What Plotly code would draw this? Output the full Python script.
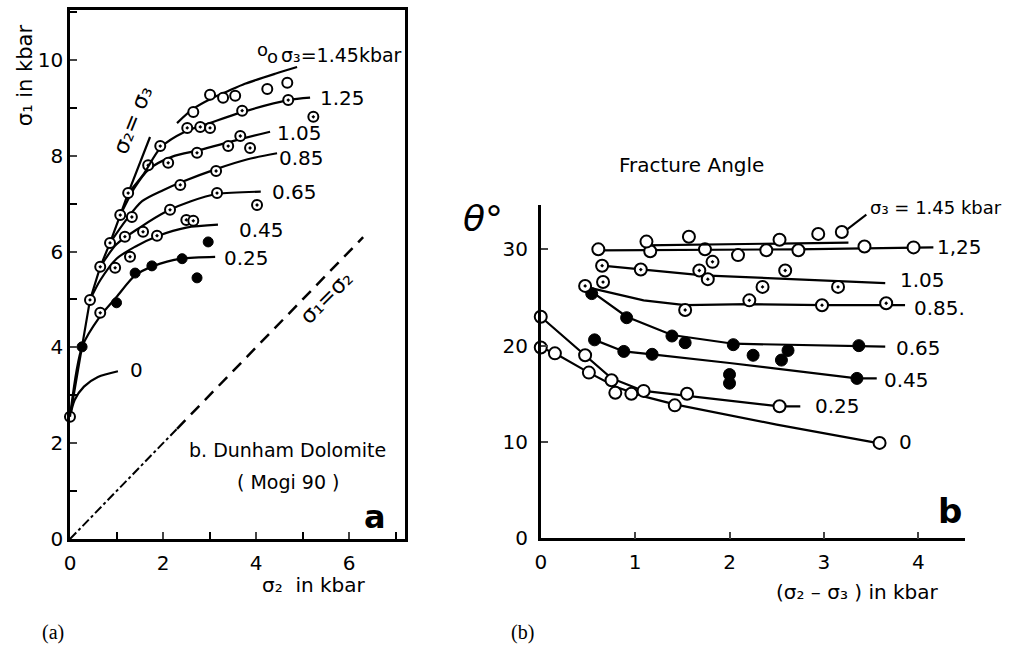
import plotly.graph_objects as go

FONT = "DejaVu Sans"

# ---- panel a : sigma1 against sigma2 (kbar), Dunham dolomite ----
A_S2S3_X = [0.0, 0.43, 0.65, 0.86, 1.08, 1.25, 1.72]
A_S2S3_Y = [2.55, 4.99, 5.68, 6.18, 6.76, 7.22, 8.39]

A0_X = [0.0, 0.1, 0.3, 0.6, 1.03]
A0_Y = [2.55, 2.9, 3.18, 3.38, 3.5]
A0_PX = [0.0]
A0_PY = [2.55]

A025_X = [0.0, 0.26, 0.65, 1.0, 1.4, 1.8, 2.4, 3.12]
A025_Y = [2.55, 4.01, 4.65, 5.05, 5.5, 5.7, 5.85, 5.89]
A025_PX = [0.26, 1.0, 1.40, 1.76, 2.41, 2.97, 2.73]
A025_PY = [4.01, 4.93, 5.55, 5.70, 5.85, 6.20, 5.45]

A045_X = [0.43, 0.65, 1.0, 1.4, 1.9, 2.5, 3.18]
A045_Y = [4.99, 5.4, 5.85, 6.1, 6.33, 6.5, 6.56]
A045_PX = [0.43, 0.65, 0.97, 1.29, 1.87, 2.5, 2.65]
A045_PY = [4.99, 4.72, 5.66, 5.89, 6.33, 6.66, 6.64]

A065_X = [0.65, 1.0, 1.5, 2.1, 2.6, 3.16, 4.1]
A065_Y = [5.68, 6.15, 6.5, 6.85, 7.05, 7.2, 7.25]
A065_PX = [0.65, 1.18, 1.57, 2.15, 3.16, 4.02]
A065_PY = [5.68, 6.31, 6.41, 6.87, 7.22, 6.97]

A085_X = [0.86, 1.2, 1.55, 2.0, 2.4, 3.14, 3.8, 4.45]
A085_Y = [6.18, 6.65, 7.05, 7.28, 7.45, 7.72, 7.92, 8.05]
A085_PX = [0.86, 1.33, 2.37, 3.14]
A085_PY = [6.18, 6.72, 7.39, 7.68]

A105_X = [1.08, 1.4, 1.7, 2.2, 2.8, 3.6, 4.3]
A105_Y = [6.76, 7.35, 7.72, 7.98, 8.12, 8.33, 8.5]
A105_PX = [1.08, 1.68, 2.11, 2.73, 3.40, 3.66, 3.87]
A105_PY = [6.76, 7.80, 7.85, 8.06, 8.20, 8.41, 8.16]

A125_X = [1.25, 1.57, 1.96, 2.47, 3.0, 3.7, 4.69, 5.16]
A125_Y = [7.22, 7.6, 8.18, 8.5, 8.68, 8.91, 9.16, 9.21]
A125_PX = [1.25, 1.94, 2.52, 2.80, 3.01, 3.70, 4.69, 5.23]
A125_PY = [7.22, 8.20, 8.58, 8.60, 8.58, 8.94, 9.16, 8.81]

A145_X = [2.30, 2.65, 3.03, 3.4, 3.76, 4.41, 4.88]
A145_Y = [8.68, 8.98, 9.19, 9.35, 9.50, 9.71, 9.85]
A145_PX = [2.65, 3.01, 3.29, 3.55, 4.24, 4.67]
A145_PY = [8.91, 9.27, 9.21, 9.25, 9.39, 9.52]

# sigma1 = sigma2 reference line
EQ_DASHDOT = [0.0, 2.3]
EQ_DASH = [2.3, 6.3]

# ---- panel b : fracture angle against (sigma2 - sigma3) ----
B0_X = [0.0, 0.15, 0.51, 0.8, 1.1, 1.42, 2.5, 3.59]
B0_Y = [19.8, 19.2, 17.2, 15.7, 14.7, 13.9, 11.8, 9.86]
B0_PX = [0.0, 0.15, 0.51, 0.79, 0.96, 1.42, 3.59]
B0_PY = [19.8, 19.2, 17.2, 15.1, 15.0, 13.8, 9.9]

B025_X = [0.0, 0.47, 0.75, 1.09, 1.55, 2.53, 2.75]
B025_Y = [23.0, 19.0, 16.6, 15.3, 14.8, 13.7, 13.7]
B025_PX = [0.0, 0.47, 0.75, 1.09, 1.55, 2.53]
B025_PY = [23.0, 19.0, 16.4, 15.3, 15.0, 13.7]

B045_X = [0.57, 0.88, 1.18, 2.0, 3.35, 3.56]
B045_Y = [20.6, 19.4, 19.1, 18.2, 16.6, 16.6]
B045_PX = [0.57, 0.88, 1.18, 2.0, 2.0, 3.35]
B045_PY = [20.6, 19.4, 19.1, 17.0, 16.1, 16.6]

B065_X = [0.47, 0.54, 0.91, 1.39, 2.04, 3.37, 3.65]
B065_Y = [26.2, 25.6, 23.0, 21.1, 20.2, 20.0, 19.9]
B065_PX = [0.54, 0.91, 1.39, 1.53, 2.04, 2.25, 2.55, 2.62, 3.37]
B065_PY = [25.4, 22.9, 21.0, 20.3, 20.1, 19.0, 18.5, 19.5, 20.0]

B085_X = [0.52, 1.09, 1.53, 2.2, 3.0, 3.86]
B085_Y = [26.0, 24.7, 24.2, 24.3, 24.2, 24.2]
B085_PX = [0.47, 0.66, 1.53, 2.21, 2.98, 3.66]
B085_PY = [26.2, 26.6, 23.7, 24.7, 24.2, 24.4]

B105_X = [0.65, 1.06, 1.72, 3.65]
B105_Y = [28.3, 27.9, 27.3, 26.5]
B105_PX = [0.65, 1.06, 1.68, 1.77, 1.82, 2.35, 2.59, 3.15]
B105_PY = [28.3, 27.9, 27.8, 26.9, 28.7, 26.1, 27.8, 26.1]

B125_X = [0.61, 2.7, 4.16]
B125_Y = [29.9, 30.0, 30.2]
B125_PX = [0.61, 1.16, 1.74, 2.09, 2.39, 2.73, 3.43, 3.95]
B125_PY = [30.0, 29.8, 30.0, 29.4, 29.9, 29.9, 30.3, 30.2]

B145_X = [1.09, 3.26]
B145_Y = [30.4, 30.7]
B145_PX = [1.12, 1.57, 2.53, 2.94, 3.19]
B145_PY = [30.8, 31.3, 31.0, 31.6, 31.8]

OPEN = dict(symbol="circle", color="white", line=dict(color="black", width=2))
BARRED = dict(symbol="circle-dot", color="white", line=dict(color="black", width=2))
FILLED = dict(symbol="circle", color="black", line=dict(color="black", width=1))

fig = go.Figure()


def curve(x, y, xa, ya, smooth=True):
    fig.add_trace(go.Scatter(
        x=x, y=y, mode="lines", xaxis=xa, yaxis=ya,
        line=dict(color="black", width=2.2, shape="spline" if smooth else "linear", smoothing=0.8),
        hoverinfo="skip"))


def points(x, y, xa, ya, style, size):
    fig.add_trace(go.Scatter(
        x=x, y=y, mode="markers", xaxis=xa, yaxis=ya,
        marker=dict(size=size, **style), cliponaxis=False))


# panel a
curve(A_S2S3_X, A_S2S3_Y, "x", "y", smooth=False)
for cx, cy, px_, py_, st in [
    (A0_X, A0_Y, A0_PX, A0_PY, OPEN),
    (A025_X, A025_Y, A025_PX, A025_PY, FILLED),
    (A045_X, A045_Y, A045_PX, A045_PY, BARRED),
    (A065_X, A065_Y, A065_PX, A065_PY, BARRED),
    (A085_X, A085_Y, A085_PX, A085_PY, BARRED),
    (A105_X, A105_Y, A105_PX, A105_PY, BARRED),
    (A125_X, A125_Y, A125_PX, A125_PY, BARRED),
    (A145_X, A145_Y, A145_PX, A145_PY, OPEN),
]:
    curve(cx, cy, "x", "y")
    points(px_, py_, "x", "y", st, 10)

fig.add_trace(go.Scatter(x=EQ_DASHDOT, y=EQ_DASHDOT, mode="lines", xaxis="x", yaxis="y",
                         line=dict(color="black", width=2, dash="dashdot")))
fig.add_trace(go.Scatter(x=EQ_DASH, y=EQ_DASH, mode="lines", xaxis="x", yaxis="y",
                         line=dict(color="black", width=2.5, dash="12px,8px")))

# panel b
for cx, cy, px_, py_, st in [
    (B0_X, B0_Y, B0_PX, B0_PY, OPEN),
    (B025_X, B025_Y, B025_PX, B025_PY, OPEN),
    (B045_X, B045_Y, B045_PX, B045_PY, FILLED),
    (B065_X, B065_Y, B065_PX, B065_PY, FILLED),
    (B085_X, B085_Y, B085_PX, B085_PY, BARRED),
    (B105_X, B105_Y, B105_PX, B105_PY, BARRED),
    (B125_X, B125_Y, B125_PX, B125_PY, OPEN),
    (B145_X, B145_Y, B145_PX, B145_PY, OPEN),
]:
    curve(cx, cy, "x2", "y2", smooth=False)
    points(px_, py_, "x2", "y2", st, 12)

axis_common = dict(showgrid=False, zeroline=False, showline=True, linecolor="black",
                   linewidth=2.5, ticks="inside", tickwidth=2, ticklen=7, automargin=False,
                   tickfont=dict(family=FONT, size=20, color="black"))

fig.update_layout(
    width=1010, height=659, showlegend=False,
    paper_bgcolor="white", plot_bgcolor="white",
    margin=dict(l=0, r=0, t=0, b=0, autoexpand=False),
    font=dict(family=FONT, size=20, color="black"),
    xaxis=dict(domain=[0.0693, 0.401], range=[0, 7.2], dtick=2, mirror=True,
               minor=dict(dtick=1, ticks="inside", ticklen=7, tickwidth=2, tickcolor="black"),
               ticklabelstandoff=4, anchor="y", **axis_common),
    yaxis=dict(domain=[0.1821, 0.9848], range=[0, 11.04], dtick=2, mirror=True,
               minor=dict(dtick=1, ticks="inside", ticklen=7, tickwidth=2, tickcolor="black"),
               anchor="x", **axis_common),
    xaxis2=dict(domain=[0.5354, 0.9559], range=[0, 4.5], dtick=1, anchor="y2",
                ticklabelstandoff=4, **axis_common),
    yaxis2=dict(domain=[0.1832, 0.6889], range=[0, 34.6], dtick=10, anchor="x2",
                ticklabelstandoff=6, **axis_common),
)

ann = []


def label(x, y, text, xref="x", yref="y", size=20, xanchor="left", angle=0,
          family=FONT, weight="normal", style="normal"):
    ann.append(dict(x=x, y=y, xref=xref, yref=yref, text=text, showarrow=False,
                    xanchor=xanchor, yanchor="middle", textangle=angle,
                    font=dict(family=family, size=size, color="black",
                              weight=weight, style=style)))


# panel a labels
label(3.98, 10.22, "o", size=18)
label(4.2, 10.06, "o", size=18)
label(4.5, 10.1, "σ₃=1.45kbar", size=19)
label(5.33, 9.2, "1.25")
label(4.41, 8.47, "1.05")
label(4.45, 7.95, "0.85")
label(4.3, 7.25, "0.65")
label(3.59, 6.45, "0.45")
label(3.27, 5.87, "0.25")
label(1.25, 3.53, "0")
label(1.35, 8.75, "σ₂= σ₃", xanchor="center", angle=-68, size=22)
label(5.5, 5.05, "σ₁=σ₂", xanchor="center", angle=-45, size=22)
label(4.67, 1.86, "b. Dunham Dolomite", xanchor="center", size=19)
label(4.69, 1.19, "( Mogi 90 )", xanchor="center", size=19)
label(6.56, 0.45, "a", xanchor="center", size=32, weight="bold")
label(0.0248, 0.886, "σ₁ in kbar", xref="paper", yref="paper", xanchor="center", angle=-90, size=21)
label(0.311, 0.112, "σ₂  in kbar", xref="paper", yref="paper", xanchor="center")

# panel b labels
label(3.47, 34.3, "σ₃ = 1.45 kbar", xref="x2", yref="y2", size=18)
label(4.18, 30.2, "1,25", xref="x2", yref="y2")
label(3.78, 26.8, "1.05", xref="x2", yref="y2")
label(3.93, 23.9, "0.85.", xref="x2", yref="y2")
label(3.74, 19.8, "0.65", xref="x2", yref="y2")
label(3.62, 16.4, "0.45", xref="x2", yref="y2")
label(2.88, 13.7, "0.25", xref="x2", yref="y2")
label(3.77, 10.0, "0", xref="x2", yref="y2")
label(4.34, 2.8, "b", xref="x2", yref="y2", xanchor="center", size=34, weight="bold")
label(0.685, 0.750, "Fracture Angle", xref="paper", yref="paper", xanchor="center")
label(0.478, 0.669, "θ°", xref="paper", yref="paper", xanchor="center", size=36, style="italic")
label(0.849, 0.102, "(σ₂ – σ₃ ) in kbar", xref="paper", yref="paper", xanchor="center")
label(0.052, 0.040, "(a)", xref="paper", yref="paper", xanchor="center", size=20, family="Liberation Serif")
label(0.517, 0.040, "(b)", xref="paper", yref="paper", xanchor="center", size=20, family="Liberation Serif")

fig.update_layout(annotations=ann)

# leader from the 1.45 kbar point to its label
fig.add_shape(type="line", xref="x2", yref="y2", x0=3.25, y0=32.1, x1=3.45, y1=33.6,
              line=dict(color="black", width=2))

# the page's default body margin would push the figure 8px right and down
fig.write_html("out.html", config={"displayModeBar": False},
               post_script="document.body.style.margin='0';")
